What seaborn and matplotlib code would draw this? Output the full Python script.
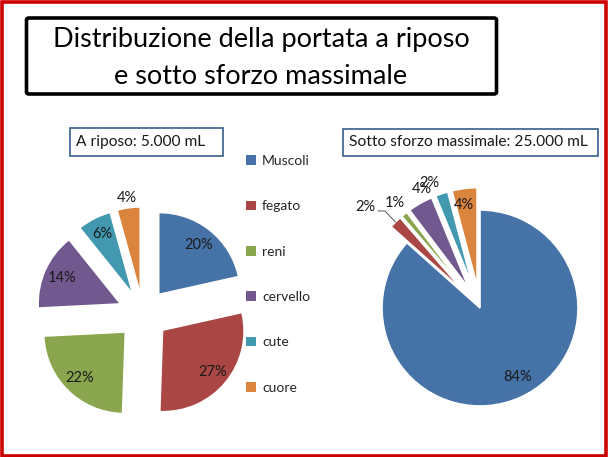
import numpy as np
import matplotlib
matplotlib.use("Agg")
import matplotlib.pyplot as plt
import seaborn as sns
from matplotlib.patches import Rectangle, FancyBboxPatch, Patch

# ---- data ----
categories = ["Muscoli", "fegato", "reni", "cervello", "cute", "cuore"]
riposo_pct = [20, 27, 22, 14, 6, 4]
sforzo_pct = [84, 2, 1, 4, 2, 4]
title_text = "Distribuzione della portata a riposo\ne sotto sforzo massimale"
riposo_title = "A riposo: 5.000 mL"
sforzo_title = "Sotto sforzo massimale: 25.000 mL"

sns.set_theme(style="white")
plt.rcParams['font.family'] = ['Lato', 'DejaVu Sans']

palette = sns.color_palette(["#4572A7", "#AA4643", "#89A54E", "#71588F", "#4198AF", "#DB843D"])
text_col = "#1a1a1a"

W, H = 609, 457
fig = plt.figure(figsize=(W / 100, H / 100), dpi=100)
fig.patch.set_facecolor("white")


def px_rect(x0, y0, x1, y1):
    return [x0 / W, 1 - y1 / H, (x1 - x0) / W, (y1 - y0) / H]


# red frame
fig.patches.append(Rectangle((1.5 / W, 1.5 / H), (W - 4.5) / W, (H - 3.5) / H,
                             transform=fig.transFigure, fill=False,
                             edgecolor="#cc0000", linewidth=2.6))

# title box
fig.patches.append(FancyBboxPatch((26.5 / W, 1 - 94 / H), (470) / W, (76) / H,
                                  boxstyle="round,pad=0,rounding_size=0.004",
                                  transform=fig.transFigure, fill=False,
                                  edgecolor="black", linewidth=2.6))
fig.text(261 / W, 1 - 40 / H, title_text.split("\n")[0], ha="center", va="center",
         fontsize=19.5, color="black")
fig.text(261 / W, 1 - 77 / H, title_text.split("\n")[1], ha="center", va="center",
         fontsize=19.5, color="black")


def sub_box(x0, y0, x1, y1, txt):
    fig.patches.append(Rectangle((x0 / W, 1 - y1 / H), (x1 - x0) / W, (y1 - y0) / H,
                                 transform=fig.transFigure, fill=False,
                                 edgecolor="#385D8A", linewidth=1.2))
    fig.text((x0 + 6) / W, 1 - ((y0 + y1) / 2) / H, txt, ha="left", va="center",
             fontsize=11.2, color=text_col)


sub_box(70, 128, 223, 156, riposo_title)
sub_box(343, 129, 598, 156, sforzo_title)


def pie_ax(cx, cy, half):
    ax = fig.add_axes(px_rect(cx - half, cy - half, cx + half, cy + half))
    ax.set_axis_off()
    return ax


def fix_limits(ax, R, half):
    ax.set_xlim(-half / R, half / R)
    ax.set_ylim(-half / R, half / R)
    ax.set_axis_off()


def label_wedges(ax, wedges, values, dists, dangs):
    pos = []
    for w, v, d, da in zip(wedges, values, dists, dangs):
        thm = np.deg2rad((w.theta1 + w.theta2) / 2)
        th = thm + np.deg2rad(da)
        cx, cy = w.center
        x = cx + d * w.r * np.cos(th)
        y = cy + d * w.r * np.sin(th)
        ax.text(x, y, f"{v}%", ha="center", va="center", fontsize=10.5, color=text_col)
        pos.append((x, y, thm, cx, cy, w.r))
    return pos


# left pie
axL = pie_ax(143, 314, 140)
wL, _ = axL.pie(riposo_pct, colors=palette, startangle=90, counterclock=False,
                explode=[0.33] * 6, radius=1.0,
                wedgeprops=dict(linewidth=0))
fix_limits(axL, 80, 140)
label_wedges(axL, wL, riposo_pct, [0.78, 0.8, 0.8, 0.78, 0.8, 1.13], [0] * 6)

# right pie
axR = pie_ax(480, 308, 125)
wR, _ = axR.pie(sforzo_pct, colors=palette, startangle=90, counterclock=False,
                explode=[0, 0.23, 0.23, 0.23, 0.23, 0.23], radius=1.0,
                wedgeprops=dict(linewidth=1.2, edgecolor="white"))
fix_limits(axR, 98, 125)
posR = label_wedges(axR, wR, sforzo_pct, [0.8, 1.33, 1.15, 1.12, 1.15, 0.83],
                    [4.8, 4.8, 0, -4.5, 4.0, 1.8])
# leader line for the small red slice
x, y, th, cx, cy, r = posR[1]
axR.plot([x + 0.13, x + 0.2, cx + 1.0 * r * np.cos(th)],
         [y - 0.04, y - 0.04, cy + 1.0 * r * np.sin(th)],
         color="#555555", linewidth=0.7)

# legend
handles = [Patch(facecolor=c, edgecolor="none") for c in palette]
leg = fig.legend(handles, categories, loc="upper left",
                 bbox_to_anchor=(246 / W, 1 - 155 / H), frameon=False,
                 fontsize=10, handlelength=0.7, handleheight=0.7, handletextpad=0.45,
                 labelspacing=2.4, borderaxespad=0, borderpad=0)
leg.set_zorder(10)

fig.savefig("out.png", dpi=100)
